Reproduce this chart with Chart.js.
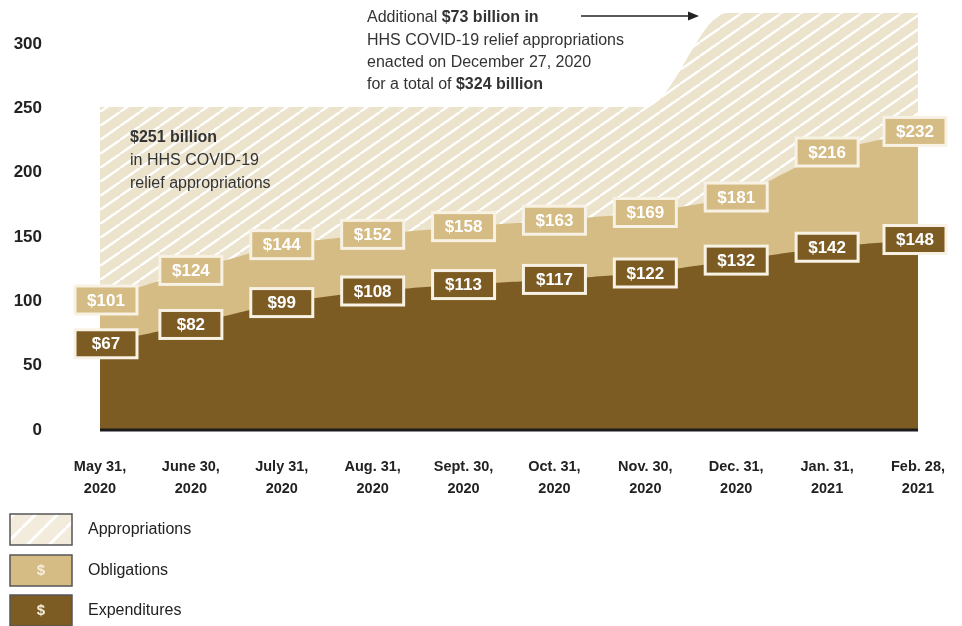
<!DOCTYPE html>
<html>
<head>
<meta charset="utf-8">
<script src="https://cdn.jsdelivr.net/npm/chart.js@4"></script>
<style>
  html, body { margin: 0; padding: 0; background: #fff; }
  #wrap { width: 962px; height: 626px; }
</style>
</head>
<body>
<div id="wrap"><canvas id="chart" width="962" height="626"></canvas></div>
<script>
// chart values
const categories = [
  ['May 31,', '2020'], ['June 30,', '2020'], ['July 31,', '2020'], ['Aug. 31,', '2020'],
  ['Sept. 30,', '2020'], ['Oct. 31,', '2020'], ['Nov. 30,', '2020'], ['Dec. 31,', '2020'],
  ['Jan. 31,', '2021'], ['Feb. 28,', '2021']
];
const expenditures = [67, 82, 99, 108, 113, 117, 122, 132, 142, 148];
const obligations = [101, 124, 144, 152, 158, 163, 169, 181, 216, 232];
// appropriations step: $251B until Nov. 30, $324B after Dec. 27, 2020
const approX = [0, 6, 6.9, 9];
const approY = [251, 251, 324, 324];
const yTicks = [0, 50, 100, 150, 200, 250, 300];

const DARK = '#7d5c24';
const MID = '#d5bb84';
const CREAM = '#ece3cd';
const EDGE = '#f8f2e4';

// diagonal white stripes on a cream tile
function hatch(w, h, width, bg) {
  const c = document.createElement('canvas');
  c.width = w; c.height = h;
  const g = c.getContext('2d');
  g.fillStyle = bg;
  g.fillRect(0, 0, w, h);
  g.strokeStyle = '#ffffff';
  g.lineWidth = width;
  g.beginPath();
  for (let k = -1; k <= 1; k++) {
    g.moveTo(k * w, h);
    g.lineTo(k * w + w, 0);
  }
  g.stroke();
  return c;
}

const canvas = document.getElementById('chart');
const ctx = canvas.getContext('2d');
const hatchFill = ctx.createPattern(hatch(20, 14, 2.4, CREAM), 'repeat');

const toPts = (xs, ys) => ys.map((v, i) => ({ x: xs ? xs[i] : i, y: v }));

const labelPlugin = {
  id: 'labels',
  afterDatasetsDraw(chart) {
    const c = chart.ctx;
    const area = chart.chartArea;
    // baseline
    c.save();
    c.strokeStyle = '#1c1c1c';
    c.lineWidth = 3;
    c.beginPath();
    c.moveTo(area.left, area.bottom);
    c.lineTo(area.right, area.bottom);
    c.stroke();

    c.font = 'bold 17px "Liberation Sans", Arial, sans-serif';
    c.textAlign = 'center';
    c.textBaseline = 'middle';
    [[0, DARK], [1, MID]].forEach(([di, col]) => {
      const meta = chart.getDatasetMeta(di);
      const vals = chart.data.datasets[di].data;
      meta.data.forEach((pt, i) => {
        const w = 62, h = 28;
        const x = pt.x + (i === 0 ? 6 : 0) - (i === vals.length - 1 ? 3 : 0), y = pt.y;
        c.fillStyle = col;
        c.fillRect(x - w / 2, y - h / 2, w, h);
        c.strokeStyle = EDGE;
        c.lineWidth = 3;
        c.strokeRect(x - w / 2, y - h / 2, w, h);
        c.fillStyle = '#ffffff';
        c.fillText('$' + vals[i].y, x, y + 1);
      });
    });
    c.restore();
  },
  afterDraw(chart) {
    const c = chart.ctx;
    c.save();
    c.fillStyle = '#333333';
    c.textAlign = 'left';
    c.textBaseline = 'middle';
    const reg = '16px "Liberation Sans", Arial, sans-serif';
    const bold = 'bold 16px "Liberation Sans", Arial, sans-serif';

    // $251 billion note
    c.font = bold; c.fillText('$251 billion', 130, 138);
    c.font = reg;
    c.fillText('in HHS COVID-19', 130, 161);
    c.fillText('relief appropriations', 130, 184);

    // $73 billion note
    function mixed(parts, x, y) {
      parts.forEach(([t, b]) => {
        c.font = b ? bold : reg;
        c.fillText(t, x, y);
        x += c.measureText(t).width;
      });
      return x;
    }
    mixed([['Additional ', false], ['$73 billion in', true]], 367, 18);
    c.font = reg;
    c.fillText('HHS COVID-19 relief appropriations', 367, 41);
    c.fillText('enacted on December 27, 2020', 367, 63);
    mixed([['for a total of ', false], ['$324 billion', true]], 367, 85);

    // arrow
    c.strokeStyle = '#222';
    c.fillStyle = '#222';
    c.lineWidth = 1.3;
    c.beginPath(); c.moveTo(581, 16); c.lineTo(690, 16); c.stroke();
    c.beginPath(); c.moveTo(699, 16); c.lineTo(688, 11.5); c.lineTo(688, 20.5); c.closePath(); c.fill();

    // legend
    const rows = [
      ['Appropriations', 514, 'hatch'],
      ['Obligations', 555, MID],
      ['Expenditures', 595, DARK]
    ];
    const legHatch = c.createPattern(hatch(22, 22, 3, '#f3ecdc'), 'repeat');
    rows.forEach(([name, top, fill]) => {
      c.fillStyle = fill === 'hatch' ? legHatch : fill;
      c.fillRect(10, top, 62, 31);
      c.strokeStyle = '#555';
      c.lineWidth = 1.5;
      c.strokeRect(10, top, 62, 31);
      if (fill !== 'hatch') {
        c.fillStyle = '#f6eedc';
        c.font = 'bold 15px "Liberation Sans", Arial, sans-serif';
        c.textAlign = 'center';
        c.fillText('$', 41, top + 16);
      }
      c.textAlign = 'left';
      c.fillStyle = '#222';
      c.font = reg;
      c.fillText(name, 88, top + 16);
    });
    c.restore();
  }
};

new Chart(ctx, {
  type: 'line',
  data: {
    datasets: [
      {
        label: 'Expenditures',
        data: toPts(null, expenditures),
        backgroundColor: DARK,
        borderColor: DARK,
        borderWidth: 0,
        fill: 'origin',
        pointRadius: 0,
        tension: 0.1
      },
      {
        label: 'Obligations',
        data: toPts(null, obligations),
        backgroundColor: MID,
        borderColor: MID,
        borderWidth: 0,
        fill: 'origin',
        pointRadius: 0,
        tension: 0.1
      },
      {
        label: 'Appropriations',
        data: toPts(approX, approY),
        backgroundColor: hatchFill,
        borderColor: 'rgba(0,0,0,0)',
        borderWidth: 0,
        fill: 'origin',
        pointRadius: 0,
        cubicInterpolationMode: 'monotone'
      }
    ]
  },
  options: {
    responsive: false,
    animation: false,
    layout: { padding: { top: 13, right: 44, bottom: 126, left: 0 } },
    plugins: {
      legend: { display: false },
      tooltip: { enabled: false }
    },
    scales: {
      x: {
        type: 'linear',
        min: 0,
        max: 9,
        grid: { display: false, drawTicks: true, tickLength: 24 },
        border: { display: false },
        afterFit(scale) { scale.height = 70; },
        afterBuildTicks(scale) { scale.ticks = categories.map((_, i) => ({ value: i })); },
        ticks: {
          autoSkip: false,
          maxRotation: 0,
          padding: 2,
          color: '#222',
          font: { family: '"Liberation Sans Narrow", "Arial Narrow", "Liberation Sans", Arial, sans-serif', size: 14.5, weight: 'bold', lineHeight: 1.5 },
          callback: (v) => categories[v]
        }
      },
      y: {
        min: 0,
        max: 324,
        grid: { display: false, drawTicks: true, tickLength: 56 },
        border: { display: false },
        afterFit(scale) { scale.width = 100; },
        afterBuildTicks(scale) { scale.ticks = yTicks.map(v => ({ value: v })); },
        ticks: {
          padding: 2,
          color: '#222',
          font: { family: '"Liberation Sans", Arial, sans-serif', size: 17, weight: 'bold' }
        }
      }
    }
  },
  plugins: [labelPlugin]
});
</script>
</body>
</html>
